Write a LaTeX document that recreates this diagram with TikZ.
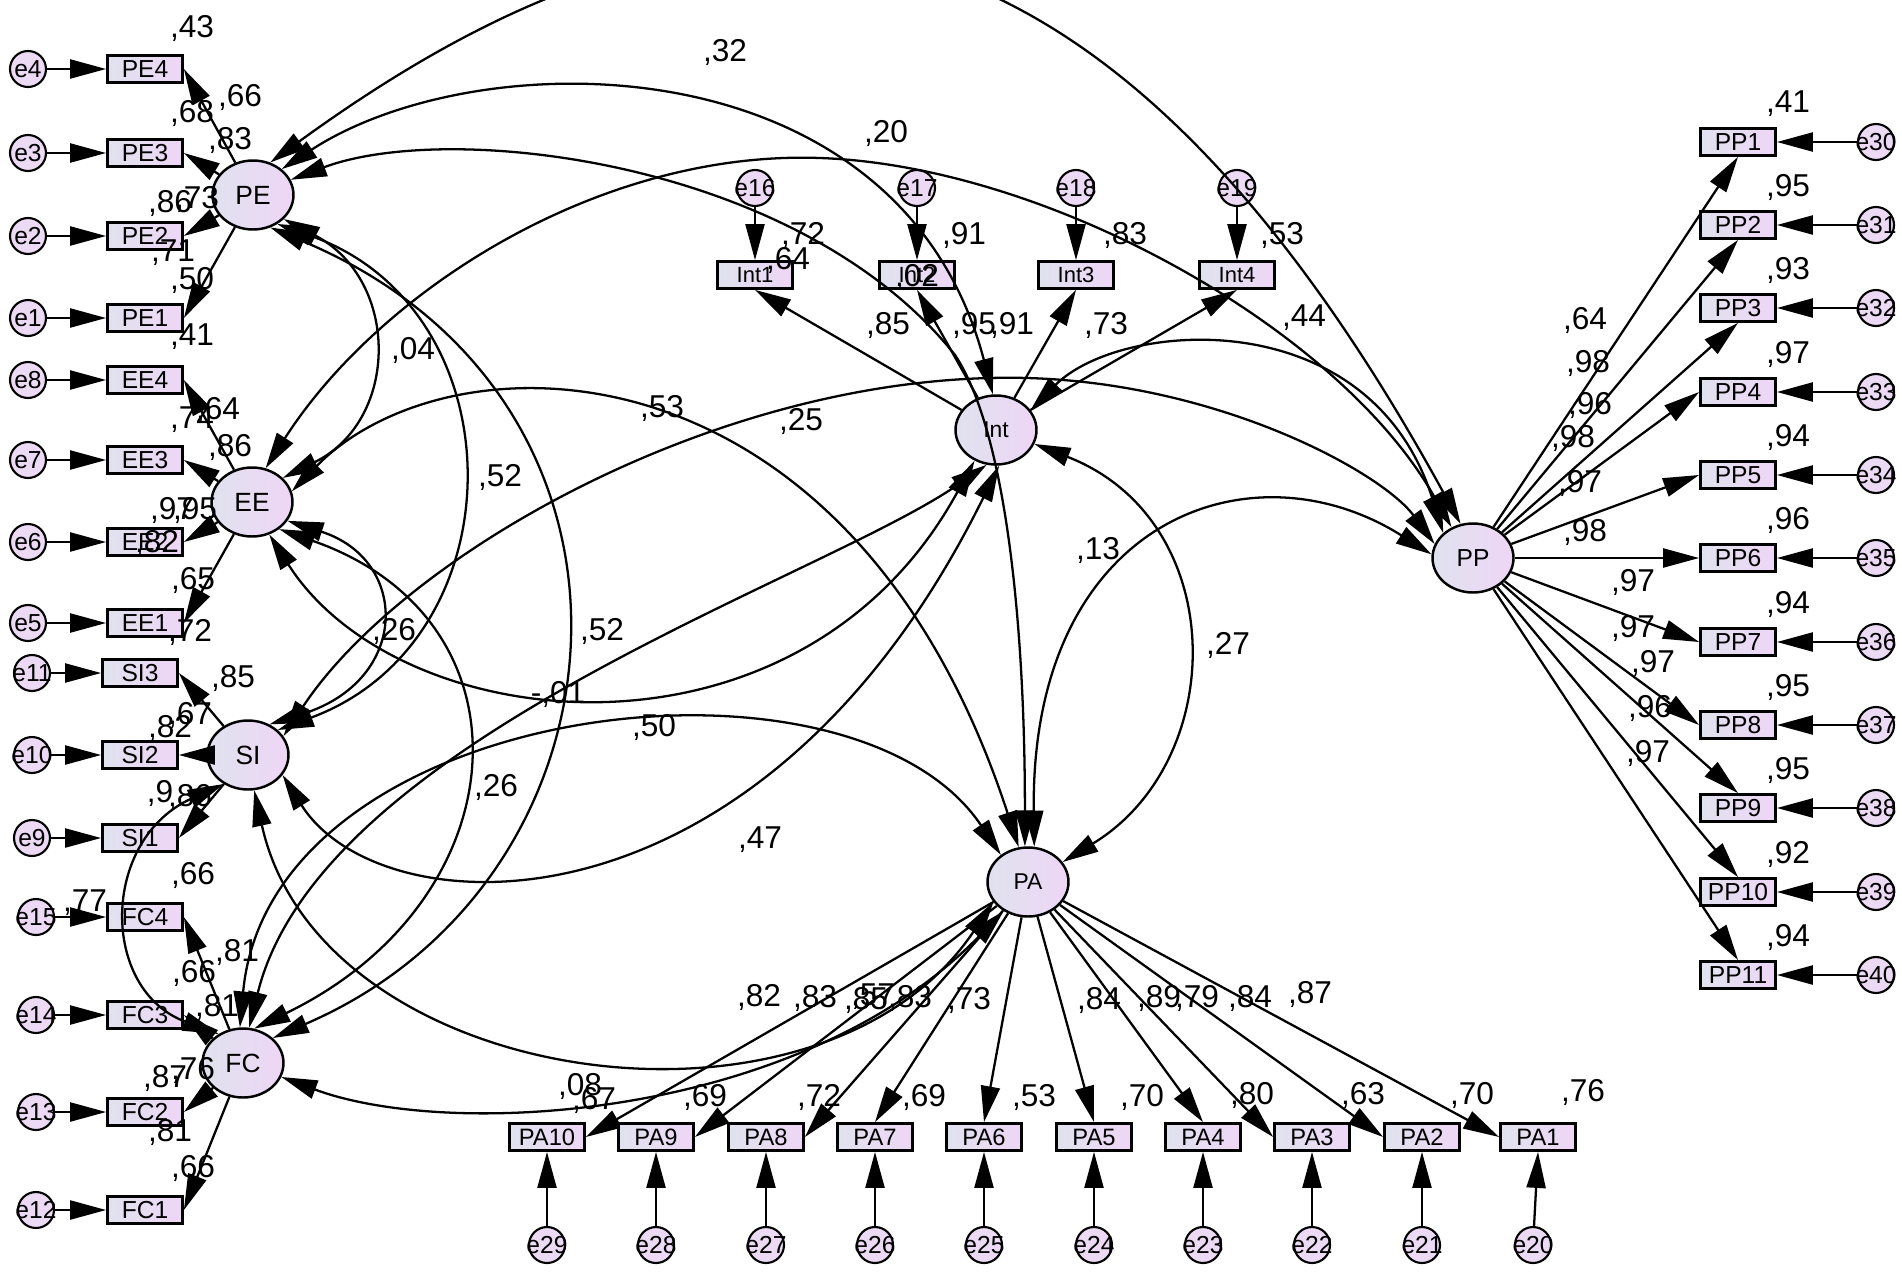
\documentclass[tikz,border=0pt]{standalone}
\usepackage{fontspec}
\setmainfont{Liberation Sans}
\usetikzlibrary{arrows.meta,shapes.geometric}
\definecolor{fillL}{RGB}{224,226,238}
\definecolor{fillR}{RGB}{238,214,246}
\definecolor{errfill}{RGB}{236,218,244}
\newcommand{\errtxt}[1]{\makebox[0pt]{#1}}
\tikzset{
 lat/.style={ellipse, draw, line width=1.4pt, minimum width=1.62cm, minimum height=1.38cm, inner sep=0pt, left color=fillL, right color=fillR, font=\fontsize{15}{15}\selectfont},
 latsm/.style={lat, font=\fontsize{13}{13}\selectfont},
 obs/.style={rectangle, draw, line width=1.6pt, minimum width=1.5cm, minimum height=0.54cm, inner sep=0pt, left color=fillL, right color=fillR, font=\fontsize{14}{14}\selectfont},
 obssm/.style={obs, font=\fontsize{12.5}{12.5}\selectfont},
 err/.style={circle, draw, line width=1.2pt, minimum size=0.72cm, inner sep=0pt, fill=errfill, font=\fontsize{14}{14}\selectfont},
 arr/.style={line width=1.3pt, -{Triangle[length=0.72cm,width=0.38cm]}},
 cov/.style={line width=1.3pt, {Triangle[length=0.72cm,width=0.38cm]}-{Triangle[length=0.72cm,width=0.38cm]}},
 lab/.style={inner sep=0pt, font=\fontsize{18}{18}\selectfont},
}
\begin{document}
\begin{tikzpicture}[x=0.02cm,y=-0.02cm]
\useasboundingbox (0,0) rectangle (1902,1271);
% latent variables
\node[lat] (PE) at (253,195) {PE};
\node[lat] (EE) at (252,502) {EE};
\node[lat] (SI) at (248,755) {SI};
\node[lat] (FC) at (243,1063) {FC};
\node[latsm] (Int) at (996,430) {Int};
\node[latsm] (PA) at (1028,882) {PA};
\node[lat, font=\fontsize{14}{14}\selectfont] (PP) at (1473,558) {PP};
% left indicators
\foreach \n/\y in {PE4/69,PE3/153,PE2/236,PE1/318,EE4/380,EE3/460,EE2/542,EE1/623,FC4/917,FC3/1015,FC2/1112,FC1/1210}
  \node[obs] (\n) at (145,\y) {\n};
\foreach \n/\y in {SI3/673,SI2/755,SI1/838}
  \node[obs] (\n) at (140,\y) {\n};
\foreach \n/\x/\y/\b in {e4/28/69/PE4,e3/28/153/PE3,e2/28/236/PE2,e1/28/318/PE1,e8/28/380/EE4,e7/28/460/EE3,e6/28/542/EE2,e5/28/623/EE1,e11/32/673/SI3,e10/32/755/SI2,e9/32/838/SI1,e15/36/917/FC4,e14/36/1015/FC3,e13/36/1112/FC2,e12/36/1210/FC1}
 {\node[err] (\n) at (\x,\y) {\errtxt{\n}};
  \draw[arr] (\n) -- (\b.west);}
\foreach \b in {PE4,PE3,PE2,PE1} \draw[arr] (PE) -- (\b.east);
\foreach \b in {EE4,EE3,EE2,EE1} \draw[arr] (EE) -- (\b.east);
\foreach \b in {SI3,SI2,SI1} \draw[arr] (SI) -- (\b.east);
\foreach \b in {FC4,FC3,FC2,FC1} \draw[arr] (FC) -- (\b.east);
% Int indicators
\foreach \i/\k/\x in {1/16/755,2/17/917,3/18/1076,4/19/1237}
 {\node[obssm] (Int\i) at (\x,275) {Int\i};
  \node[err] (e\k) at (\x,188) {\errtxt{e\k}};
  \draw[arr] (e\k) -- (Int\i.north);
  \draw[arr] (Int) -- (Int\i.south);}
% PP indicators
\foreach \i/\y/\a in {1/142/south,2/225/south,3/308/south,4/392/west,5/475/west,6/558/west,7/642/west,8/725/west,9/808/north,10/892/north,11/975/north}
 {\pgfmathtruncatemacro\k{29+\i}
  \node[obs] (PP\i) at (1738,\y) {PP\i};
  \node[err] (e\k) at (1876,\y) {\errtxt{e\k}};
  \draw[arr] (e\k) -- (PP\i.east);
  \draw[arr] (PP) -- (PP\i.\a);}
% PA indicators
\foreach \i/\x/\ex/\a in {10/547/547/east,9/656/656/east,8/766/766/east,7/875/875/north,6/984/984/north,5/1094/1094/north,4/1203/1203/north,3/1312/1312/west,2/1422/1422/west,1/1538/1533/west}
 {\pgfmathtruncatemacro\k{19+\i}
  \node[obs, font=\fontsize{13.5}{13.5}\selectfont] (PA\i) at (\x,1137) {PA\i};
  \node[err] (e\k) at (\ex,1245) {\errtxt{e\k}};
  \draw[arr] (e\k) -- (PA\i.south);
  \draw[arr] (PA) -- (PA\i.\a);}
% covariances
\draw[cov] (PE.62) .. controls (700,-150) and (1080,-170) .. (PP.110);
\draw[cov] (PE.42) .. controls (480,40) and (900,40) .. (Int.95);
\draw[cov] (PE.22) .. controls (450,120) and (800,160) .. (955,355) .. controls (1005,430) and (1025,620) .. (PA.95);
\draw[cov] (PE.-38) .. controls (400,280) and (400,420) .. (EE.38);
\draw[cov] (PE.-50) .. controls (520,310) and (520,640) .. (SI.40);
\draw[cov] (PE.-62) .. controls (680,400) and (640,880) .. (FC.40);
\draw[cov] (EE.68) .. controls (380,290) and (600,150) .. (820,158) .. controls (1050,166) and (1340,330) .. (PP.125);
\draw[cov] (EE.15) .. controls (450,330) and (850,330) .. (PA.105);
\draw[cov] (EE.-28) .. controls (410,560) and (410,680) .. (SI.55);
\draw[cov] (EE.-45) .. controls (540,620) and (520,900) .. (FC.72);
\draw[cov] (EE.-62) .. controls (400,740) and (800,780) .. (Int.-125);
\draw[cov] (SI.-130) .. controls (100,840) and (100,990) .. (FC.130);
\draw[cov] (SI.-30) .. controls (380,930) and (760,950) .. (Int.-85);
\draw[cov] (SI.28) .. controls (400,560) and (700,385) .. (990,378) .. controls (1200,372) and (1380,470) .. (PP.160);
\draw[cov] (Int.30) .. controls (1120,320) and (1370,300) .. (PP.140);
\draw[cov] (PA.80) .. controls (1030,520) and (1250,440) .. (PP.175);
\draw[cov] (Int.-20) .. controls (1230,520) and (1230,760) .. (PA.30);
\draw[cov] (SI.-80) .. controls (320,1090) and (820,1160) .. (PA.-150);
\draw[cov] (FC.-20) .. controls (450,1140) and (800,1120) .. (PA.-130);
\draw[cov] (FC.95) .. controls (270,700) and (850,630) .. (PA.135);
\draw[cov] (FC.80) .. controls (320,740) and (820,580) .. (Int.-105);
% labels left
\node[lab] (L1) at (192,28) {,43};
\node[lab] (L2) at (240,97) {,66};
\node[lab] (L3) at (192,113) {,68};
\node[lab] (L4) at (230,140) {,83};
\node[lab] (L5) at (170,203) {,86};
\node[lab] (L6) at (197,199) {,73};
\node[lab] (L7) at (173,253) {,71};
\node[lab] (L8) at (192,280) {,50};
\node[lab] (L9) at (192,337) {,41};
\node[lab] (L10) at (192,420) {,74};
\node[lab] (L11) at (218,410) {,64};
\node[lab] (L12) at (230,447) {,86};
\node[lab] (L13) at (172,510) {,97};
\node[lab] (L14) at (195,510) {,95};
\node[lab] (L15) at (157,543) {,82};
\node[lab] (L16) at (193,580) {,65};
\node[lab] (L17) at (190,632) {,72};
\node[lab] (L18) at (233,678) {,85};
\node[lab] (L19) at (190,715) {,67};
\node[lab] (L20) at (170,728) {,82};
\node[lab] (L21) at (160,793) {,9};
\node[lab] (L22) at (190,797) {,86};
\node[lab] (L23) at (193,875) {,66};
\node[lab] (L24) at (85,903) {,77};
\node[lab] (L25) at (237,952) {,81};
\node[lab] (L26) at (194,973) {,66};
\node[lab] (L27) at (217,1007) {,81};
\node[lab] (L28) at (165,1078) {,87};
\node[lab] (L29) at (193,1070) {,76};
\node[lab] (L30) at (170,1132) {,81};
\node[lab] (L31) at (193,1168) {,66};
% Int labels
\node[lab] (L32) at (803,235) {,72};
\node[lab] (L33) at (788,260) {,64};
\node[lab] (L34) at (964,235) {,91};
\node[lab] (L35) at (917,277) {,02};
\node[lab] (L36) at (1125,235) {,83};
\node[lab] (L37) at (1282,235) {,53};
\node[lab] (L38) at (888,325) {,85};
\node[lab] (L39) at (974,325) {,95};
\node[lab] (L40) at (1012,325) {,91};
\node[lab] (L41) at (1106,325) {,73};
\node[lab] (L42) at (1304,318) {,44};
\node[lab] (L43) at (801,421) {,25};
% covariance labels
\node[lab] (L44) at (725,52) {,32};
\node[lab] (L45) at (886,133) {,20};
\node[lab] (L46) at (413,350) {,04};
\node[lab] (L47) at (500,477) {,52};
\node[lab] (L48) at (662,408) {,53};
\node[lab] (L49) at (394,631) {,26};
\node[lab] (L50) at (602,631) {,52};
\node[lab] (L51) at (558,694) {-,01};
\node[lab] (L52) at (654,727) {,50};
\node[lab] (L53) at (496,787) {,26};
\node[lab] (L54) at (760,840) {,47};
\node[lab] (L55) at (1098,550) {,13};
\node[lab] (L56) at (1228,645) {,27};
\node[lab] (L57) at (580,1086) {,08};
% PA labels
\node[lab] (L58) at (759,997) {,82};
\node[lab] (L59) at (815,998) {,83};
\node[lab] (L60) at (866,1000) {,85};
\node[lab] (L61) at (873,997) {,57};
\node[lab] (L62) at (910,998) {,83};
\node[lab] (L63) at (969,1000) {,73};
\node[lab] (L64) at (1099,1000) {,84};
\node[lab] (L65) at (1159,998) {,89};
\node[lab] (L66) at (1197,998) {,79};
\node[lab] (L67) at (1250,998) {,84};
\node[lab] (L68) at (1310,994) {,87};
\node[lab] (L69) at (594,1100) {,67};
\node[lab] (L70) at (705,1097) {,69};
\node[lab] (L71) at (819,1097) {,72};
\node[lab] (L72) at (924,1097) {,69};
\node[lab] (L73) at (1034,1097) {,53};
\node[lab] (L74) at (1142,1097) {,70};
\node[lab] (L75) at (1252,1095) {,80};
\node[lab] (L76) at (1363,1095) {,63};
\node[lab] (L77) at (1472,1095) {,70};
\node[lab] (L78) at (1583,1092) {,76};
% PP labels
\node[lab] (L79) at (1585,320) {,64};
\node[lab] (L80) at (1588,363) {,98};
\node[lab] (L81) at (1590,405) {,96};
\node[lab] (L82) at (1573,438) {,98};
\node[lab] (L83) at (1580,483) {,97};
\node[lab] (L84) at (1585,532) {,98};
\node[lab] (L85) at (1633,582) {,97};
\node[lab] (L86) at (1633,628) {,97};
\node[lab] (L87) at (1653,663) {,97};
\node[lab] (L88) at (1650,708) {,96};
\node[lab] (L89) at (1648,753) {,97};
\foreach \v/\y [count=\i] in {41/104,95/187,93/270,97/354,94/437,96/520,94/604,95/687,95/770,92/854,94/937}
  \node[lab] (R\i) at (1788,\y) {,\v};
\end{tikzpicture}
\end{document}
